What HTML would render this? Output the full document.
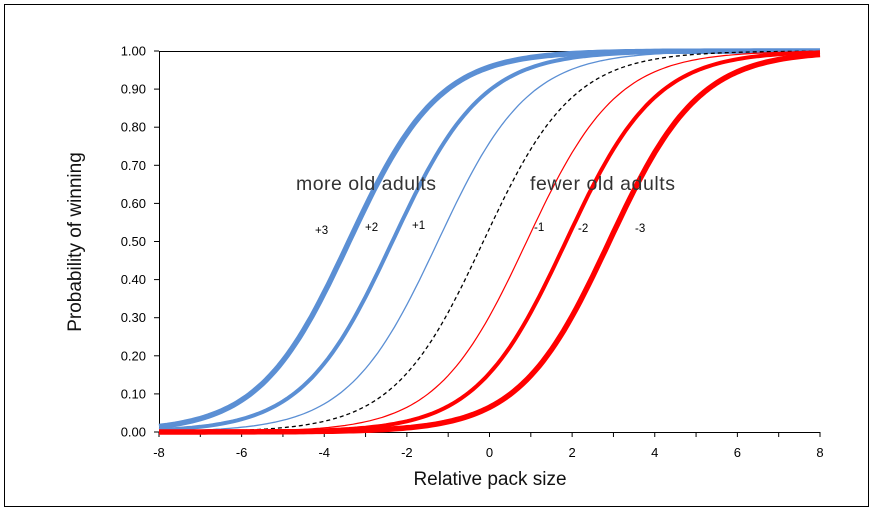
<!DOCTYPE html>
<html><head><style>
body{margin:0;background:#fff;}
svg text{font-family:"Liberation Sans",sans-serif;}
</style></head><body>
<svg id="s" width="875" height="512" xmlns="http://www.w3.org/2000/svg">
<rect x="4.5" y="4.5" width="864" height="502" fill="none" stroke="#000" stroke-width="1"/>
<g id="ax" stroke="#000" stroke-width="1"></g>
<g id="cv" fill="none"></g>
<g id="lb" font-size="13" fill="#000" text-anchor="end"></g>
<text x="490" y="485" font-size="19" text-anchor="middle" fill="#111">Relative pack size</text>
<text transform="translate(81,242) rotate(-90)" font-size="19" text-anchor="middle" fill="#111">Probability of winning</text>
<text x="296" y="190" font-size="19.5" fill="#333" textLength="140">more old adults</text>
<text x="530" y="190" font-size="19.5" fill="#333" textLength="145">fewer old adults</text>
<g font-size="11.5" fill="#000">
<text x="315" y="234">+3</text><text x="365" y="231">+2</text><text x="412" y="229">+1</text>
<text x="534" y="231">-1</text><text x="578" y="232">-2</text><text x="635" y="232">-3</text>
</g>
</svg>
<script>
var X=function(v){return 159+(v+8)*41.3125;},Y=function(p){return 432-p*381;};
var ax=document.getElementById('ax'),lb=document.getElementById('lb'),cv=document.getElementById('cv');
var h='<line x1="159" y1="432.5" x2="820" y2="432.5"/><line x1="159.5" y1="51" x2="159.5" y2="432"/><line x1="159" y1="51.5" x2="820" y2="51.5"/>';
for(var i=0;i<=10;i++){var y=Y(i/10);h+='<line x1="154" y1="'+y+'" x2="159" y2="'+y+'"/>';}
for(var v=-8;v<=8;v++){var x=X(v);h+='<line x1="'+x+'" y1="432" x2="'+x+'" y2="437"/>';}
ax.innerHTML=h;
var t='';
for(var i=0;i<=10;i++){t+='<text x="146" y="'+(Y(i/10)+4.5)+'">'+(i/10).toFixed(2)+'</text>';}
for(var v=-8;v<=8;v+=2){t+='<text x="'+X(v)+'" y="457" text-anchor="middle">'+v+'</text>';}
lb.innerHTML=t;
var C=[[-3.4,'#5b8fd4',5.5,''],[-2.35,'#5b8fd4',4,''],[-1.25,'#5b8fd4',1.3,''],[-0.15,'#000',1.3,'4,3'],[0.9,'#ff0000',1.2,''],[1.85,'#ff0000',4,''],[2.9,'#ff0000',5.5,'']];
var o='';
C.forEach(function(c){var p=[];for(var v=-8;v<=8.001;v+=0.1){var q=1/(1+Math.exp(-0.92*(v-c[0])));p.push(X(v).toFixed(1)+','+Y(q).toFixed(1));}
o+='<polyline points="'+p.join(' ')+'" stroke="'+c[1]+'" stroke-width="'+c[2]+'"'+(c[3]?' stroke-dasharray="'+c[3]+'"':'')+'/>';});
cv.innerHTML=o;
</script>
</body></html>
